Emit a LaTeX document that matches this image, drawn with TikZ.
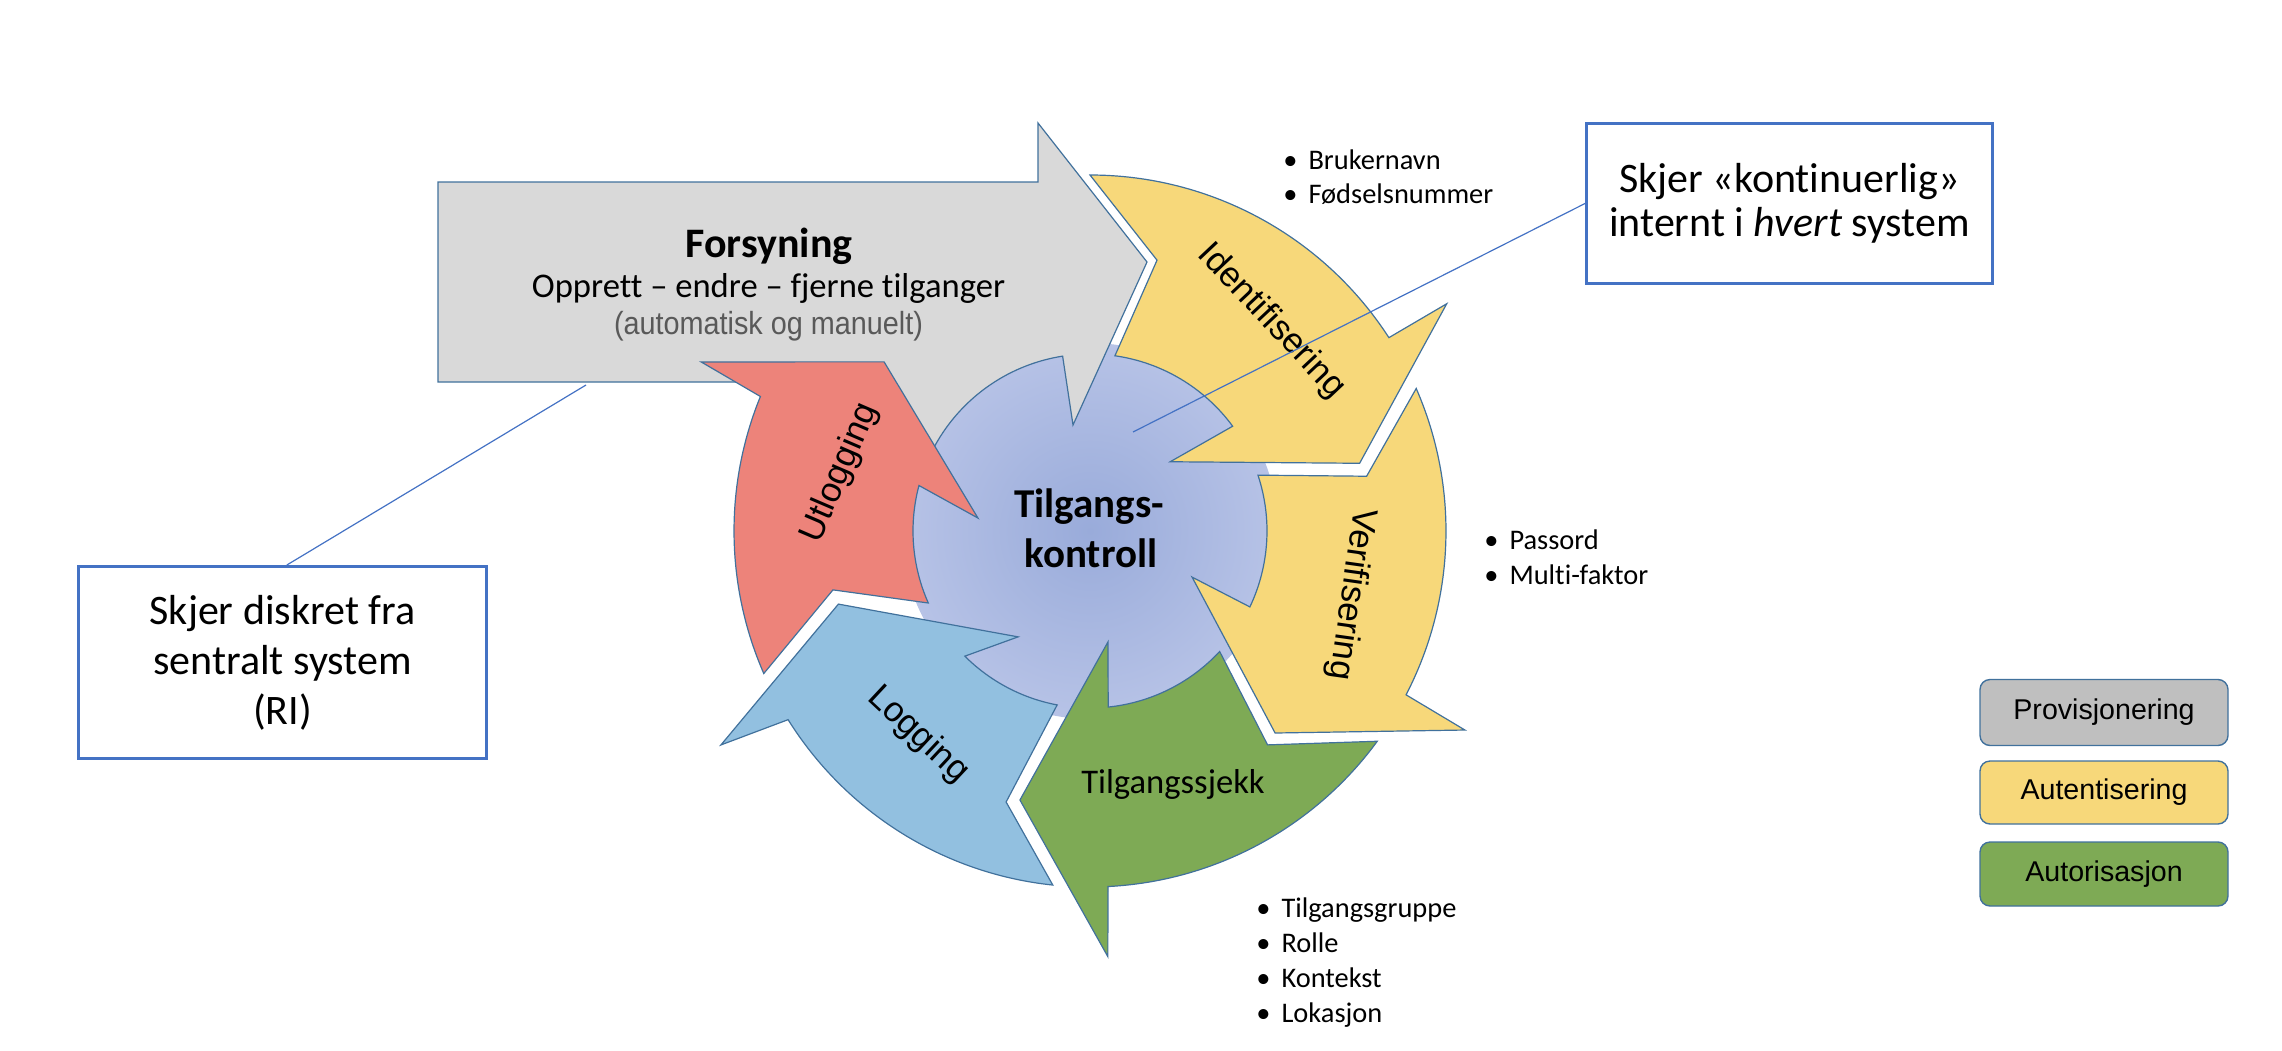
\documentclass[tikz,border=0pt]{standalone}
\usepackage{fontspec}
\setmainfont{Carlito}[Ligatures=NoCommon]
\newfontfamily\arialf{Liberation Sans}[Ligatures=NoCommon]
\newfontfamily\arialn{Liberation Sans}[FakeStretch=0.9,Ligatures=NoCommon]
\definecolor{olc}{RGB}{65,113,156}
\definecolor{greyA}{RGB}{217,217,217}
\definecolor{yelA}{RGB}{247,216,122}
\definecolor{grnA}{RGB}{126,170,85}
\definecolor{bluA}{RGB}{146,192,224}
\definecolor{redA}{RGB}{237,131,122}
\definecolor{legG}{RGB}{191,191,191}
\definecolor{boxB}{RGB}{68,114,196}
\definecolor{txtG}{RGB}{89,89,89}
\definecolor{cin}{RGB}{153,171,218}
\definecolor{cout}{RGB}{201,209,238}
\pgfdeclareradialshading{cshade}{\pgfpoint{0bp}{0bp}}{color(0bp)=(cin); color(40bp)=(cout); color(50bp)=(cout)}
\begin{document}
\begin{tikzpicture}[x=0.5pt,y=-0.5pt,
  ring/.style={draw=olc, line width=0.6pt, line join=miter},
  lab/.style={font=\arialf\fontsize{17.5}{21}\selectfont, inner sep=0pt},
  cal/.style={font=\fontsize{17.3}{21}\selectfont, inner sep=0pt},
  bul/.style={font=\fontsize{14.2}{17}\selectfont, anchor=base west, inner sep=0pt},
  callout/.style={draw=boxB, line width=1.5pt, fill=white, align=center, inner sep=0pt},
  leg/.style={draw=olc, line width=0.7pt, rounded corners=5pt, minimum width=124pt, inner sep=0pt, font=\arialf\fontsize{14.3}{17}\selectfont},
  conn/.style={draw=boxB, line width=0.6pt}]
\useasboundingbox (0,0) rectangle (2282,1050);
\begin{scope}[shift={(1090,531)}]
% centre circle
\shade[shading=cshade] (0,0) circle[radius=188];
% grey provisioning arrow
\filldraw[ring, fill=greyA] (-652,-149) -- (-652,-349) -- (-52,-349) -- (-52,-408) -- (57,-269) -- (-17,-106) -- (-98.9:177) arc[start angle=-98.9, end angle=-153, radius=177] -- (-190,-131) -- (-290,-149) -- cycle;
% Identifisering
\filldraw[ring, fill=yelA] (-90:356) arc[start angle=-90, end angle=-32.9, radius=356] -- (-32.5:423) -- (-14.1:278) -- (-40.8:106) -- (-36.3:177) arc[start angle=-36.3, end angle=-81.9, radius=177] -- (-76.1:279) -- cycle;
% Verifisering
\filldraw[ring, fill=yelA] (-23.6:356) arc[start angle=-23.6, end angle=27.4, radius=356] -- (27.96:424.5) -- (47.5:274) -- (24.3:112) -- (25.4:177) arc[start angle=25.4, end angle=-18.4, radius=177] -- (-11.2:282) -- cycle;
% Tilgangssjekk
\filldraw[ring, fill=grnA] (36.2:356) arc[start angle=36.2, end angle=87.1, radius=356] -- (87.6:426) -- (104.6:278) -- (80.8:112.4) -- (84.1:177) arc[start angle=84.1, end angle=42.9, radius=177] -- (50.3:278) -- cycle;
% Logging
\filldraw[ring, fill=bluA] (96:356) arc[start angle=96, end angle=148, radius=356] -- (149.9:426.6) -- (163.8:262) -- (124.2:128) -- (135:177) arc[start angle=135, end angle=100.7, radius=177] -- (107.2:283.7) -- cycle;
% Utlogging
\filldraw[ring, fill=redA] (156.4:356) arc[start angle=156.4, end angle=202.2, radius=356] -- (203.5:424) -- (219.4:266.5) -- (186.6:112.8) -- (194.9:177) arc[start angle=194.9, end angle=156, radius=177] -- (167.1:263.7) -- cycle;
\end{scope}
% texts on the grey arrow
\node[font=\bfseries\fontsize{21}{25}\selectfont, anchor=base, inner sep=0pt] (fors) at (769,257) {Forsyning};
\node[font=\fontsize{17.3}{21}\selectfont, anchor=base, inner sep=0pt] (opp) at (768.5,297) {Opprett – endre – fjerne tilganger};
\node[font=\arialn\fontsize{16}{19}\selectfont, text=txtG, anchor=base, inner sep=0pt] (auto) at (768.5,334) {(automatisk og manuelt)};
% centre
\node[font=\bfseries\fontsize{20.5}{25}\selectfont, anchor=base, inner sep=0pt] (tk1) at (1089,517) {Tilgangs-};
\node[font=\bfseries\fontsize{20.5}{25}\selectfont, anchor=base, inner sep=0pt] (tk2) at (1091,567) {kontroll};
% arrow labels
\node[lab, rotate=-46.7] (idf) at (1271,321) {Identifisering};
\node[lab, rotate=-98] (ver) at (1351,594) {Verifisering};
\node[lab, rotate=66.8] (utl) at (840,473) {Utlogging};
\node[lab, rotate=-43] (logg) at (918,735) {Logging};
\node[cal, anchor=base] (tsj) at (1173,793) {Tilgangssjekk};
% bullet lists
\node[bul] (b11) at (1283,169) {•\hspace{5.5pt}Brukernavn};
\node[bul] (b12) at (1283,203) {•\hspace{5.5pt}Fødselsnummer};
\node[bul] (b21) at (1484,549) {•\hspace{5.5pt}Passord};
\node[bul] (b22) at (1484,584) {•\hspace{5.5pt}Multi-faktor};
\node[bul] (b31) at (1256,917) {•\hspace{5.5pt}Tilgangsgruppe};
\node[bul] (b32) at (1256,952) {•\hspace{5.5pt}Rolle};
\node[bul] (b33) at (1256,987) {•\hspace{5.5pt}Kontekst};
\node[bul] (b34) at (1256,1022) {•\hspace{5.5pt}Lokasjon};
% callouts
\node[callout, minimum width=204pt, minimum height=96pt, font=\fontsize{21}{25}\selectfont] (lbox) at (282.5,662.5) {Skjer diskret fra\\sentralt system\\(RI)};
\node[callout, minimum width=203pt, minimum height=80pt, font=\fontsize{21}{21.8}\selectfont] (rbox) at (1789.5,203.5) {Skjer «kontinuerlig»\\internt i \emph{hvert} system};
\coordinate (lend) at (586,385);
\coordinate (rend) at (1133,432);
\draw[conn] ([xshift=2.2pt]lbox.north) -- (lend);
\draw[conn] (rbox.west) -- (rend);
% legend
\node[leg, fill=legG, minimum height=33pt] (lp) at (2104,712.5) {Provisjonering};
\node[leg, fill=yelA, minimum height=31.5pt] (la) at (2104,792.5) {Autentisering};
\node[leg, fill=grnA, minimum height=32pt] (lz) at (2104,874) {Autorisasjon};
\end{tikzpicture}
\end{document}
